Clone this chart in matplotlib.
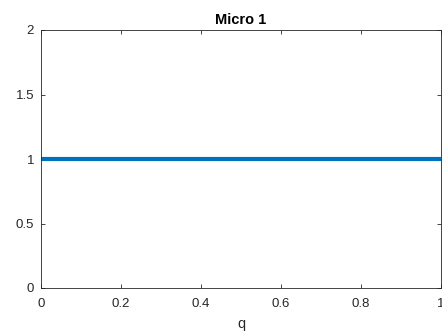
import matplotlib
matplotlib.use("Agg")
import matplotlib.pyplot as plt
import numpy as np

q = [0.0, 1.0]
values = [1.0, 1.0]
xticks = [0, 0.2, 0.4, 0.6, 0.8, 1]
xticklabels = ["0", "0.2", "0.4", "0.6", "0.8", "1"]
yticks = [0, 0.5, 1, 1.5, 2]
yticklabels = ["0", "0.5", "1", "1.5", "2"]

plt.rcParams['font.family'] = ['Liberation Sans', 'DejaVu Sans']
fig = plt.figure(figsize=(4.42, 3.35), dpi=100)
ax = fig.add_axes([41/442, 47/335, 400/442, 258/335])
ax.plot(q, values, color='#0072BD', linewidth=3)
ax.set_xlim(0, 1)
ax.set_ylim(0, 2)
ax.set_xticks(xticks)
ax.set_xticklabels(xticklabels)
ax.set_yticks(yticks)
ax.set_yticklabels(yticklabels)
ax.tick_params(direction='in', top=True, right=True, labelsize=9.5, colors='#262626', length=3, width=0.6)
ax.tick_params(axis='x', pad=7)
ax.tick_params(axis='y', pad=5)
for s in ax.spines.values():
    s.set_color('#262626')
    s.set_linewidth(0.6)
ax.set_xlabel('q', fontsize=10.5, color='#262626', labelpad=5)
ax.set_title('Micro 1', fontsize=10.5, fontweight='bold', color='black', pad=4)
fig.savefig('out.png', dpi=100)
